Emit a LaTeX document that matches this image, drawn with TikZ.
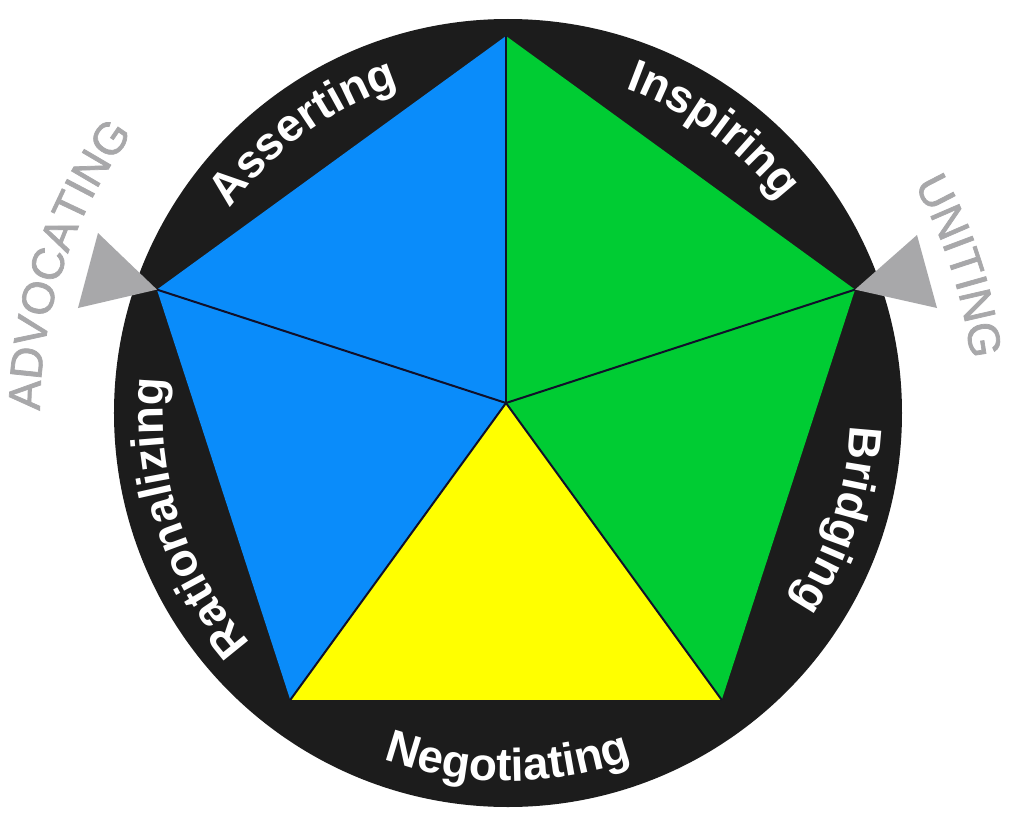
\documentclass[tikz,border=0pt]{standalone}
\usepackage{fontspec}
\setmainfont{Liberation Sans}
\usetikzlibrary{decorations.text}
\definecolor{ringblack}{HTML}{1C1C1C}
\definecolor{segblue}{HTML}{0A8CFA}
\definecolor{seggreen}{HTML}{00CC33}
\definecolor{segyellow}{HTML}{FFFF00}
\definecolor{markgray}{HTML}{A8A8AA}
\definecolor{divline}{HTML}{10102A}
\newfontfamily\grayfamily[FakeBold=1.6]{Liberation Sans}
\newcommand{\ringfont}{\fontsize{46}{50}\selectfont\bfseries}
\newcommand{\outerfont}{\grayfamily\fontsize{45}{50}\selectfont}
\begin{document}
\begin{tikzpicture}[x=1pt,y=1pt,
  divider/.style={draw=divline, line width=2pt},
  ringlabel/.style={decorate, decoration={text along path, text align=center, text color=white, text={|\ringfont|#1}}},
  outerlabel/.style={decorate, decoration={text along path, text align=center, text color=markgray, text={|\outerfont|#1}}},
  pointer/.style={fill=markgray, draw=none}]
\useasboundingbox (-508,-407) rectangle (512,413);
\fill[white] (-508,-407) rectangle (512,413);
% black ring disc
\fill[ringblack] (0,0) circle[radius=394];
% pentagon geometry
\coordinate (C) at (-2,10);
\coordinate (T) at ([shift={(-2,10)}]90:367);
\coordinate (UL) at ([shift={(-2,10)}]162:367);
\coordinate (BL) at ([shift={(-2,10)}]234:367);
\coordinate (BR) at ([shift={(-2,10)}]306:367);
\coordinate (UR) at ([shift={(-2,10)}]18:367);
\fill[segblue] (C) -- (T) -- (UL) -- cycle;
\fill[segblue] (C) -- (UL) -- (BL) -- cycle;
\fill[segyellow] (C) -- (BL) -- (BR) -- cycle;
\fill[seggreen] (C) -- (BR) -- (UR) -- cycle;
\fill[seggreen] (C) -- (UR) -- (T) -- cycle;
\draw[divider] (C) -- (T);
\draw[divider] (C) -- (UL);
\draw[divider] (C) -- (BL);
\draw[divider] (C) -- (BR);
\draw[divider] (C) -- (UR);
% gray pointers
\coordinate (LP1) at (-410,180);
\coordinate (LP2) at (-430,105);
\coordinate (RP1) at (409,178);
\coordinate (RP2) at (429,105);
\fill[pointer] (UL) -- (LP1) -- (LP2) -- cycle;
\fill[pointer] (UR) -- (RP1) -- (RP2) -- cycle;
% ring labels
\path[ringlabel=Asserting] (160:345) arc[start angle=160, end angle=92, radius=345];
\path[ringlabel=Inspiring] (88:345) arc[start angle=88, end angle=20, radius=345];
\path[ringlabel=Bridging] (16:342) arc[start angle=16, end angle=-52, radius=342];
\path[ringlabel=Rationalizing] (236:345) arc[start angle=236, end angle=160, radius=345];
\path[ringlabel=Negotiating] (232:368) arc[start angle=232, end angle=308, radius=368];
% outer labels
\path[outerlabel=ADVOCATING] (198:468) arc[start angle=198, end angle=125, radius=468];
\path[outerlabel=UNITING] (52:466) arc[start angle=52, end angle=-16, radius=466];
\end{tikzpicture}
\end{document}
